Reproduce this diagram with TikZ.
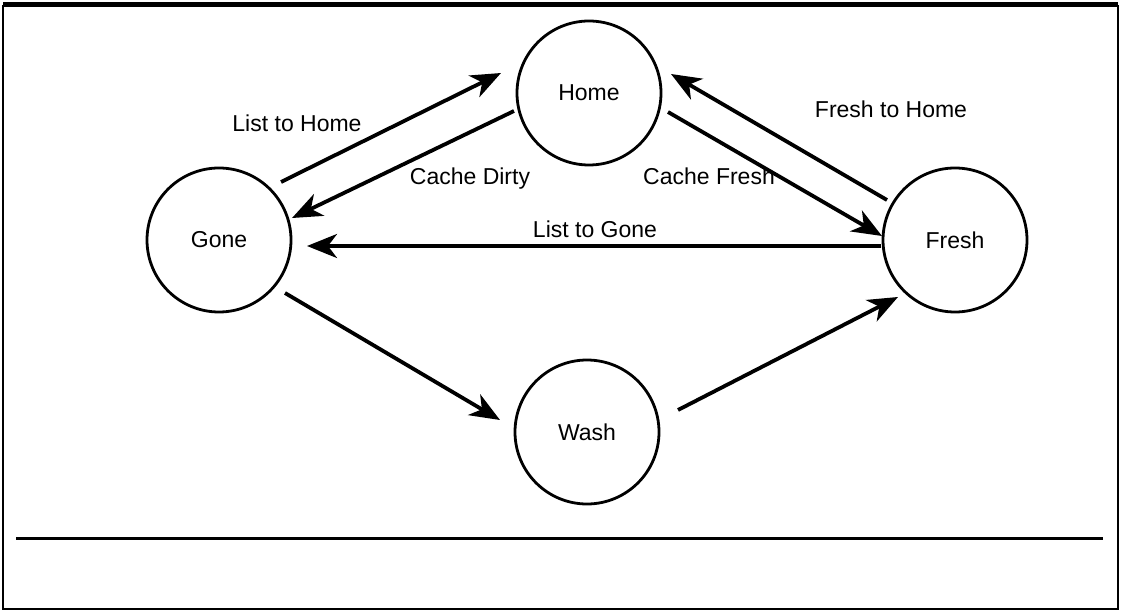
\documentclass[tikz,border=0pt]{standalone}
\usepackage{fontspec}
\setmainfont{Liberation Sans}
\usetikzlibrary{arrows.meta}
\begin{document}
\begin{tikzpicture}[x=1pt,y=-1pt,
  state/.style={circle,draw,line width=2.8pt,minimum size=144pt,inner sep=0pt,font=\fontsize{23}{26}\selectfont},
  trans/.style={line width=3.8pt,-{Stealth[length=30pt,width=24pt,inset=9pt]}},
  lbl/.style={font=\fontsize{23}{26}\selectfont,inner sep=0pt}]
  \useasboundingbox (0,0) rectangle (1124,612);
  % frame
  \draw[line width=2pt] (3,6) rectangle (1118,609);
  \draw[line width=5pt] (3,5) -- (1118,5);
  \draw[line width=3pt] (16,538) -- (1103,538);
  % states
  \node[state] (home)  at (589,93)  {Home};
  \node[state] (gone)  at (219,240) {Gone};
  \node[state] (fresh) at (955,240) {Fresh};
  \node[state] (wash)  at (587,432) {Wash};
  % transitions
  \draw[trans] ([shift={(62,-58)}]gone.center)  -- ([shift={(-88,-20)}]home.center);
  \draw[trans] ([shift={(-75,18)}]home.center)  -- ([shift={(73,-22)}]gone.center);
  \draw[trans] ([shift={(-74,6)}]fresh.center)  -- ([shift={(88,6)}]gone.center);
  \draw[trans] ([shift={(79,19)}]home.center)   -- ([shift={(-73,-4)}]fresh.center);
  \draw[trans] ([shift={(-68,-40)}]fresh.center) -- ([shift={(82,-19)}]home.center);
  \draw[trans] ([shift={(66,53)}]gone.center)   -- ([shift={(-87,-12)}]wash.center);
  \draw[trans] ([shift={(91,-22)}]wash.center)  -- ([shift={(-57,57)}]fresh.center);
  % labels
  \node[lbl] (l1) at (297,123) {List to Home};
  \node[lbl] (l2) at (470,179) {Cache Dirty};
  \node[lbl] (l3) at (595,229) {List to Gone};
  \node[lbl] (l4) at (709,176) {Cache Fresh};
  \node[lbl] (l5) at (891,109) {Fresh to Home};
\end{tikzpicture}
\end{document}
